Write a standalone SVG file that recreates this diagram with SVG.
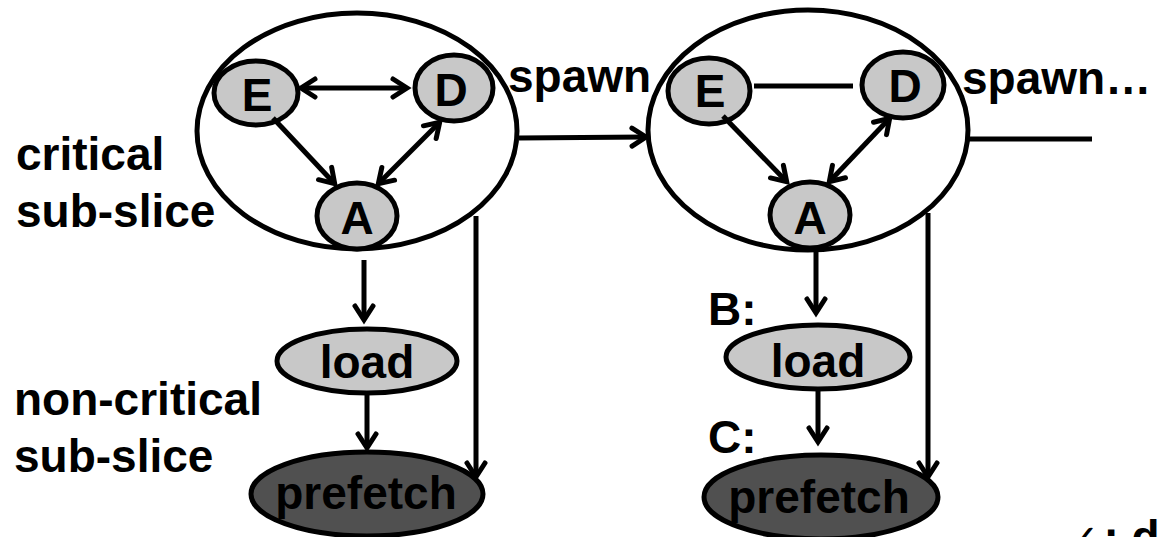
<svg xmlns="http://www.w3.org/2000/svg" width="1159" height="537" viewBox="0 0 1159 537">
  <defs>
    <style>
      .lbl { font-family: "Liberation Sans", Arial, sans-serif; font-weight: bold; font-size: 46px; fill: #000; }
      .ctr { text-anchor: middle; }
      .slice { fill: #fff; stroke: #000; stroke-width: 5; }
      .node { fill: #c8c8c8; stroke: #000; stroke-width: 5; }
      .dark { fill: #505050; stroke: #000; stroke-width: 5; }
      .edge { stroke: #000; stroke-width: 5; fill: none; }
    </style>
    <marker id="head" markerUnits="userSpaceOnUse" markerWidth="24" markerHeight="28" viewBox="-18 -14 24 28" refX="-1" refY="0" orient="auto-start-reverse">
      <path d="M-14,-9 L0,0 L-14,9" fill="none" stroke="#000" stroke-width="5" stroke-linejoin="miter" stroke-linecap="round"/>
    </marker>
  </defs>
  <rect width="1159" height="537" fill="#fff"/>

  <!-- side labels -->
  <g id="labels">
    <text class="lbl" x="16" y="170">critical</text>
    <text class="lbl" x="16" y="227">sub-slice</text>
    <text class="lbl" x="14" y="415">non-critical</text>
    <text class="lbl" x="14" y="472">sub-slice</text>
    <text class="lbl" x="508" y="92">spawn</text>
    <text class="lbl" x="962" y="94">spawn…</text>
    <text class="lbl" x="708" y="325">B:</text>
    <text class="lbl" x="708" y="453">C:</text>
    <text x="1066" y="553" style="font-family: 'DejaVu Sans', sans-serif; font-size: 40px; fill: #000;">✓<tspan class="lbl" dx="4">: d</tspan></text>
  </g>

  <!-- first slice -->
  <g id="slice1">
    <ellipse class="slice" cx="357" cy="131" rx="160" ry="118"/>
  </g>
  <g id="slice1-E">
    <ellipse class="node" cx="256" cy="93" rx="42" ry="32"/>
    <text class="lbl ctr" x="257" y="111">E</text>
  </g>
  <g id="slice1-D">
    <ellipse class="node" cx="454" cy="88" rx="39" ry="33"/>
    <text class="lbl ctr" x="451" y="106">D</text>
  </g>
  <g id="slice1-A">
    <ellipse class="node" cx="357" cy="216" rx="40" ry="33"/>
    <text class="lbl ctr" x="357" y="234">A</text>
  </g>
  <g id="slice1-load">
    <ellipse class="node" cx="367" cy="361" rx="90" ry="32"/>
    <text class="lbl ctr" x="367" y="378">load</text>
  </g>
  <g id="slice1-prefetch">
    <ellipse class="dark" cx="367" cy="494" rx="116" ry="42"/>
    <text class="lbl ctr" x="366" y="509">prefetch</text>
  </g>

  <!-- second slice -->
  <g id="slice2">
    <ellipse class="slice" cx="808" cy="130" rx="160" ry="120"/>
  </g>
  <g id="slice2-E">
    <ellipse class="node" cx="709" cy="91" rx="41" ry="33"/>
    <text class="lbl ctr" x="710" y="107">E</text>
  </g>
  <g id="slice2-D">
    <ellipse class="node" cx="903" cy="85" rx="41" ry="33"/>
    <text class="lbl ctr" x="905" y="102">D</text>
  </g>
  <g id="slice2-A">
    <ellipse class="node" cx="810" cy="215" rx="40" ry="33"/>
    <text class="lbl ctr" x="810" y="234">A</text>
  </g>
  <g id="slice2-load">
    <ellipse class="node" cx="818" cy="357" rx="92" ry="32"/>
    <text class="lbl ctr" x="818" y="377">load</text>
  </g>
  <g id="slice2-prefetch">
    <ellipse class="dark" cx="821" cy="497" rx="117" ry="42"/>
    <text class="lbl ctr" x="819" y="513">prefetch</text>
  </g>

  <!-- connectors -->
  <g id="connectors">
    <!-- slice 1 internal -->
    <line class="edge" x1="302" y1="88" x2="406" y2="88" marker-start="url(#head)" marker-end="url(#head)"/>
    <line class="edge" x1="273" y1="118" x2="334" y2="183" marker-end="url(#head)"/>
    <line class="edge" x1="439" y1="123" x2="379" y2="183" marker-start="url(#head)" marker-end="url(#head)"/>
    <!-- slice 1 to non-critical -->
    <line class="edge" x1="364" y1="260" x2="364" y2="319" marker-end="url(#head)"/>
    <line class="edge" x1="367" y1="394" x2="367" y2="447" marker-end="url(#head)"/>
    <line class="edge" x1="476" y1="216" x2="476" y2="476" marker-end="url(#head)"/>
    <!-- spawn -->
    <line class="edge" x1="519" y1="138" x2="645" y2="137" marker-end="url(#head)"/>
    <!-- slice 2 internal -->
    <line class="edge" x1="754" y1="86" x2="853" y2="86"/>
    <line class="edge" x1="723" y1="116" x2="786" y2="181" marker-end="url(#head)"/>
    <line class="edge" x1="889" y1="119" x2="830" y2="181" marker-start="url(#head)" marker-end="url(#head)"/>
    <!-- slice 2 to non-critical -->
    <line class="edge" x1="816" y1="250" x2="816" y2="312" marker-end="url(#head)"/>
    <line class="edge" x1="818" y1="390" x2="818" y2="441" marker-end="url(#head)"/>
    <line class="edge" x1="928" y1="213" x2="928" y2="476" marker-end="url(#head)"/>
    <!-- next spawn -->
    <line class="edge" x1="969" y1="139" x2="1092" y2="139"/>
  </g>
</svg>
